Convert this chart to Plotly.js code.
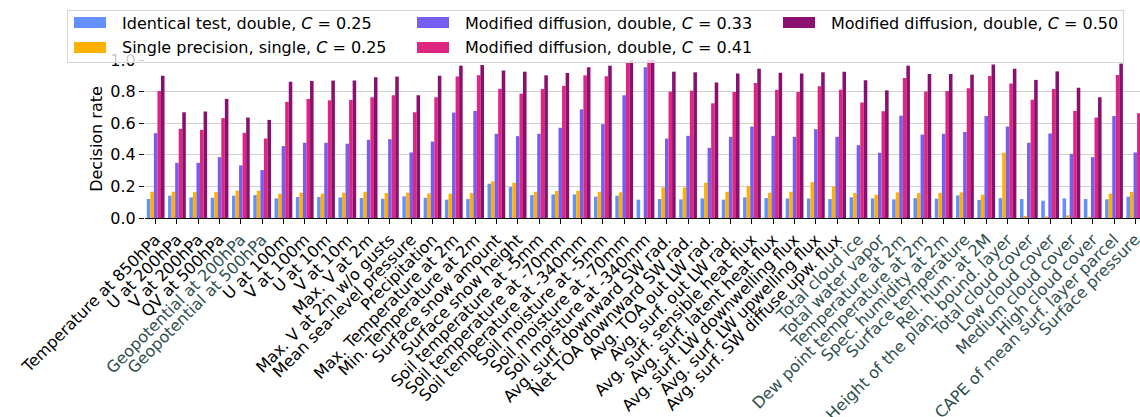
<!DOCTYPE html>
<html>
<head>
<meta charset="utf-8">
<script src="https://cdn.plot.ly/plotly-3.0.1.min.js"></script>
<style>html,body{margin:0;padding:0;overflow:hidden;background:#fff}</style>
</head>
<body>
<div id="chart" style="width:1140px;height:417px"></div>
<script>
const categories = [
  "Temperature at 850hPa","U at 200hPa","V at 200hPa","QV at 500hPa",
  "Geopotential at 200hPa","Geopotential at 500hPa","U at 100m","V at 100m",
  "U at 10m","V at 10m","Max. V at 2m","Max. V at 2m w/o gusts",
  "Mean sea-level pressure","Precipitation","Max. Temperature at 2m","Min. Temperature at 2m",
  "Surface snow amount","Surface snow height","Soil temperature at -5mm","Soil temperature at -70mm",
  "Soil temperature at -340mm","Soil moisture at -5mm","Soil moisture at -70mm","Soil moisture at -340mm",
  "Avg. surf. downward SW rad.","Net TOA downward SW rad.","Avg. TOA out LW rad.","Avg. surf. out LW rad.",
  "Avg. surf. sensible heat flux","Avg. surf. latent heat flux","Avg. surf. LW downwelling flux","Avg. surf. LW upwelling flux",
  "Avg. surf. SW diffuse upw. flux","Total cloud ice","Total water vapor","Temperature at 2m",
  "Dew point temperature at 2m","Spec. humidity at 2m","Surface temperature","Rel. hum. at 2M",
  "Height of the plan. bound. layer","Total cloud cover","Low cloud cover","Medium cloud cover",
  "High cloud cover","CAPE of mean surf. layer parcel","Surface pressure"
];
const tealLabels = [
  "Geopotential at 200hPa","Geopotential at 500hPa","Total cloud ice","Total water vapor",
  "Temperature at 2m","Dew point temperature at 2m","Spec. humidity at 2m","Surface temperature",
  "Rel. hum. at 2M","Height of the plan. bound. layer","Total cloud cover","Low cloud cover",
  "Medium cloud cover","High cloud cover","CAPE of mean surf. layer parcel","Surface pressure"
];
const identical = [0.120,0.141,0.130,0.128,0.141,0.145,0.124,0.133,0.133,0.130,
  0.126,0.122,0.137,0.128,0.116,0.120,0.217,0.196,0.145,0.149,
  0.149,0.135,0.141,0.116,0.120,0.118,0.124,0.116,0.131,0.126,
  0.124,0.124,0.120,0.131,0.124,0.118,0.126,0.122,0.143,0.114,
  0.126,0.120,0.109,0.124,0.120,0.118,0.135];
const single = [0.166,0.166,0.164,0.164,0.173,0.173,0.154,0.160,0.154,0.160,
  0.166,0.158,0.160,0.156,0.154,0.158,0.232,0.223,0.166,0.171,
  0.173,0.166,0.162,0.000,0.194,0.194,0.223,0.166,0.204,0.160,
  0.166,0.227,0.200,0.158,0.147,0.162,0.158,0.158,0.162,0.147,
  0.413,0.013,0.010,0.017,0.008,0.154,0.166];
const mod033 = [0.537,0.349,0.349,0.385,0.333,0.303,0.455,0.476,0.476,0.470,
  0.495,0.499,0.415,0.484,0.667,0.678,0.533,0.518,0.533,0.571,
  0.688,0.594,0.777,0.954,0.503,0.520,0.444,0.514,0.579,0.520,
  0.514,0.562,0.514,0.461,0.413,0.648,0.528,0.533,0.545,0.646,
  0.579,0.476,0.535,0.406,0.385,0.646,0.415];
const mod041 = [0.804,0.564,0.558,0.632,0.539,0.503,0.735,0.754,0.745,0.747,
  0.764,0.777,0.669,0.764,0.895,0.903,0.817,0.787,0.817,0.836,
  0.903,0.897,0.983,1.000,0.800,0.806,0.726,0.798,0.855,0.811,
  0.798,0.834,0.811,0.731,0.676,0.886,0.800,0.804,0.821,0.899,
  0.851,0.749,0.817,0.678,0.636,0.905,0.663];
const mod050 = [0.900,0.669,0.674,0.754,0.636,0.621,0.863,0.867,0.870,0.870,
  0.891,0.895,0.777,0.900,0.964,0.968,0.933,0.926,0.903,0.918,
  0.954,0.964,0.998,1.000,0.926,0.922,0.857,0.914,0.945,0.920,
  0.914,0.922,0.926,0.872,0.808,0.964,0.912,0.912,0.907,0.971,
  0.945,0.874,0.928,0.825,0.764,0.977,0.800];
const seriesNames = [
  "Identical test, double, <i>C</i> = 0.25",
  "Single precision, single, <i>C</i> = 0.25",
  "Modified diffusion, double, <i>C</i> = 0.33",
  "Modified diffusion, double, <i>C</i> = 0.41",
  "Modified diffusion, double, <i>C</i> = 0.50"
];
const seriesColors = ["#648FFF","#FFB000","#785EF0","#DC267F","#8A0F6F"];
const yTicks = [0, 0.2, 0.4, 0.6, 0.8, 1.0];

const seriesValues = [identical, single, mod033, mod041, mod050];
const FONT = "DejaVu Sans, Liberation Sans, sans-serif";

const W = 1140, H = 417, ML = 145, MR = 0, MT = 60, MB = 199;
const PW = W - ML - MR, PH = H - MT - MB;
const px = v => (v - ML) / PW;
const py = v => 1 - (v - MT) / PH;

const traces = seriesValues.map((vals, k) => ({
  type: "bar",
  x: categories,
  y: vals,
  name: seriesNames[k],
  marker: {color: seriesColors[k], line: {width: 0}},
  showlegend: false,
  hoverinfo: "y"
}));

const ticktext = categories.map(c => tealLabels.includes(c)
  ? '<span style="color:#2f4f4f">' + c + '</span>' : c);

// Manual legend box (matplotlib style, 3 columns, column-major fill), drawn as annotations
const annotations = [];
const lx0 = 67, lx1 = 1123, ly0 = 9.5, ly1 = 61;
annotations.push({xref: "paper", yref: "paper", x: px(lx0), y: py(ly0),
  xanchor: "left", yanchor: "top", showarrow: false, text: " ",
  width: lx1 - lx0 - 1, height: ly1 - ly0 - 1, borderpad: 0, borderwidth: 1,
  bordercolor: "#d5d5d5", bgcolor: "rgba(255,255,255,0.8)"});
const colSw = [74, 417, 783], colTx = [120, 463, 829], rowY = [23, 47];
seriesNames.forEach((n, k) => {
  const c = Math.floor(k / 2), rr = k % 2;
  annotations.push({xref: "paper", yref: "paper", x: px(colSw[c]), y: py(rowY[rr] - 5.5),
    xanchor: "left", yanchor: "top", showarrow: false, text: " ",
    width: 32, height: 11, borderpad: 0, borderwidth: 0, bgcolor: seriesColors[k]});
  annotations.push({xref: "paper", yref: "paper", x: px(colTx[c]), y: py(rowY[rr]),
    xanchor: "left", yanchor: "middle", showarrow: false, text: n,
    font: {family: FONT, size: 16, color: "#000"}});
});

const layout = {
  width: W, height: H,
  margin: {l: ML, r: MR, t: MT, b: MB, pad: 0},
  paper_bgcolor: "#fff", plot_bgcolor: "#fff",
  font: {family: FONT, size: 16, color: "#000"},
  barmode: "group", bargap: 1/6, bargroupgap: 0,
  xaxis: {
    type: "category",
    range: [-0.5, 46.22],
    tickmode: "array", tickvals: categories, ticktext: ticktext,
    tickangle: -45,
    ticks: "outside", ticklen: 5, tickwidth: 1, tickcolor: "#000",
    showline: true, linecolor: "#000", linewidth: 1,
    showgrid: false, automargin: false,
    tickfont: {family: FONT, size: 16, color: "#000"}
  },
  yaxis: {
    range: [0, 1.0],
    tickmode: "array", tickvals: yTicks, tickformat: ".1f",
    ticks: "outside", ticklen: 5, tickwidth: 1, tickcolor: "#000",
    showline: false, zeroline: false,
    showgrid: true, gridcolor: "#d0d0d0", gridwidth: 1,
    automargin: false,
    tickfont: {family: FONT, size: 16, color: "#000"},
    title: {text: "Decision rate", standoff: 3, font: {family: FONT, size: 16, color: "#000"}}
  },
  annotations: annotations,
  showlegend: false
};

Plotly.newPlot("chart", traces, layout, {displayModeBar: false, staticPlot: true});
</script>
</body>
</html>
